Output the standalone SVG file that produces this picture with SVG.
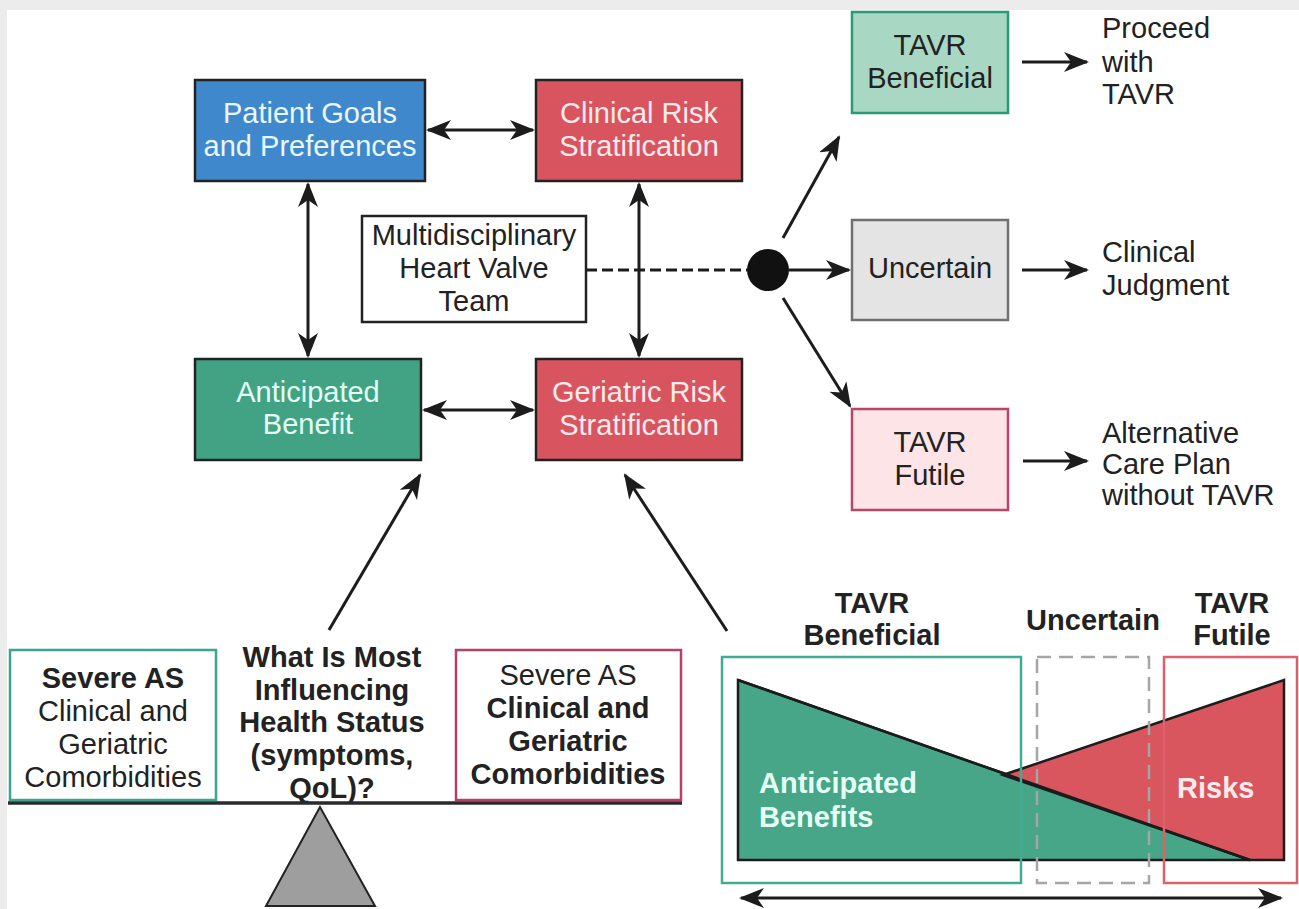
<svg xmlns="http://www.w3.org/2000/svg" width="1299" height="909" viewBox="0 0 1299 909">
  <style>
    text { font-family: "Liberation Sans", Arial, Helvetica, sans-serif; font-size: 29px; }
    .c { text-anchor: middle; }
    .b { font-weight: bold; }
    .lt { fill: #e9f7ff; }
    .dk { fill: #222; }
    .box { stroke: #222; stroke-width: 2.5; }
    .arw { stroke: #1c1c1c; stroke-width: 3; fill: none; }
  </style>
  <defs>
    <marker id="ah" markerUnits="userSpaceOnUse" markerWidth="28" markerHeight="24" refX="23" refY="10" orient="auto-start-reverse">
      <path d="M0,0 L25,10 L0,20 L7,10 Z" fill="#1c1c1c"/>
    </marker>
  </defs>

  <!-- page -->
  <rect x="0" y="0" width="1299" height="909" fill="#ececec"/>
  <rect x="7" y="10" width="1292" height="899" fill="#ffffff"/>

  <!-- decision nodes -->
  <g id="patient-goals">
    <rect class="box" x="195" y="80" width="230" height="101" fill="#3f88cc"/>
    <text class="c lt" x="310" y="123">Patient Goals</text>
    <text class="c lt" x="310" y="156">and Preferences</text>
  </g>
  <g id="clinical-risk">
    <rect class="box" x="536" y="80" width="206" height="101" fill="#d85560"/>
    <text class="c" x="639" y="123" fill="#fdebec">Clinical Risk</text>
    <text class="c" x="639" y="156" fill="#fdebec">Stratification</text>
  </g>
  <g id="heart-team">
    <rect class="box" x="362" y="216" width="224" height="106" fill="#ffffff" stroke="#333"/>
    <text class="c dk" x="474" y="245">Multidisciplinary</text>
    <text class="c dk" x="474" y="278">Heart Valve</text>
    <text class="c dk" x="474" y="311">Team</text>
  </g>
  <g id="anticipated-benefit">
    <rect class="box" x="195" y="359" width="226" height="101" fill="#41a384"/>
    <text class="c" x="308" y="402" fill="#e4fff4">Anticipated</text>
    <text class="c" x="308" y="434" fill="#e4fff4">Benefit</text>
  </g>
  <g id="geriatric-risk">
    <rect class="box" x="536" y="359" width="206" height="101" fill="#d85560"/>
    <text class="c" x="639" y="402" fill="#fdebec">Geriatric Risk</text>
    <text class="c" x="639" y="435" fill="#fdebec">Stratification</text>
  </g>

  <g id="decision-point">
    <circle cx="768" cy="270" r="21" fill="#111"/>
  </g>

  <!-- outcomes -->
  <g id="tavr-beneficial">
    <rect x="852" y="12" width="156" height="101" fill="#a8d7c4" stroke="#2b9a74" stroke-width="2.5"/>
    <text class="c dk" x="930" y="55">TAVR</text>
    <text class="c dk" x="930" y="88">Beneficial</text>
  </g>
  <g id="uncertain">
    <rect x="852" y="220" width="156" height="100" fill="#e4e4e4" stroke="#707070" stroke-width="2.5"/>
    <text class="c dk" x="930" y="278">Uncertain</text>
  </g>
  <g id="tavr-futile">
    <rect x="852" y="409" width="156" height="101" fill="#fce4e7" stroke="#b8456a" stroke-width="2.5"/>
    <text class="c dk" x="930" y="452">TAVR</text>
    <text class="c dk" x="930" y="485">Futile</text>
  </g>

  <g id="proceed">
    <text class="dk" x="1102" y="38">Proceed</text>
    <text class="dk" x="1102" y="72">with</text>
    <text class="dk" x="1102" y="104">TAVR</text>
  </g>
  <g id="clinical-judgment">
    <text class="dk" x="1102" y="262">Clinical</text>
    <text class="dk" x="1102" y="295">Judgment</text>
  </g>
  <g id="alternative-plan">
    <text class="dk" x="1102" y="443">Alternative</text>
    <text class="dk" x="1102" y="474">Care Plan</text>
    <text class="dk" x="1102" y="505">without TAVR</text>
  </g>

  <!-- connectors -->
  <g id="connectors">
    <line class="arw" x1="428" y1="130" x2="533" y2="130" marker-start="url(#ah)" marker-end="url(#ah)"/>
    <line class="arw" x1="424" y1="410" x2="533" y2="410" marker-start="url(#ah)" marker-end="url(#ah)"/>
    <line class="arw" x1="308" y1="184" x2="308" y2="356" marker-start="url(#ah)" marker-end="url(#ah)"/>
    <line class="arw" x1="639" y1="184" x2="639" y2="356" marker-start="url(#ah)" marker-end="url(#ah)"/>
    <line x1="586" y1="270" x2="747" y2="270" stroke="#1c1c1c" stroke-width="3" stroke-dasharray="11 5"/>
    <line class="arw" x1="783" y1="238" x2="839" y2="137" marker-end="url(#ah)"/>
    <line class="arw" x1="789" y1="270" x2="849" y2="270" marker-end="url(#ah)"/>
    <line class="arw" x1="783" y1="298" x2="850" y2="406" marker-end="url(#ah)"/>
    <line class="arw" x1="1022" y1="62" x2="1087" y2="62" marker-end="url(#ah)"/>
    <line class="arw" x1="1022" y1="270" x2="1087" y2="270" marker-end="url(#ah)"/>
    <line class="arw" x1="1023" y1="461" x2="1087" y2="461" marker-end="url(#ah)"/>
    <line class="arw" x1="329" y1="630" x2="420" y2="475" marker-end="url(#ah)"/>
    <line class="arw" x1="727" y1="631" x2="625" y2="475" marker-end="url(#ah)"/>
  </g>

  <!-- balance scale -->
  <g id="scale">
    <rect x="10" y="650" width="206" height="150" fill="none" stroke="#3aa58a" stroke-width="2.5"/>
    <text class="c b dk" x="113" y="688">Severe AS</text>
    <text class="c dk" x="113" y="721">Clinical and</text>
    <text class="c dk" x="113" y="754">Geriatric</text>
    <text class="c dk" x="113" y="787">Comorbidities</text>

    <text class="c b dk" x="332" y="667">What Is Most</text>
    <text class="c b dk" x="332" y="700">Influencing</text>
    <text class="c b dk" x="332" y="732">Health Status</text>
    <text class="c b dk" x="332" y="765">(symptoms,</text>
    <text class="c b dk" x="332" y="798">QoL)?</text>

    <rect x="456" y="650" width="225" height="150" fill="none" stroke="#b83f6a" stroke-width="2.5"/>
    <text class="c dk" x="568" y="685">Severe AS</text>
    <text class="c b dk" x="568" y="718">Clinical and</text>
    <text class="c b dk" x="568" y="751">Geriatric</text>
    <text class="c b dk" x="568" y="784">Comorbidities</text>

    <line x1="8" y1="803" x2="682" y2="803" stroke="#2a2a2a" stroke-width="3.5"/>
    <polygon points="320,807 266,906 375,906" fill="#9e9e9e" stroke="#222" stroke-width="2"/>
  </g>

  <!-- benefit / risk spectrum -->
  <g id="spectrum">
    <text class="c b dk" x="872" y="613">TAVR</text>
    <text class="c b dk" x="872" y="645">Beneficial</text>
    <text class="c b dk" x="1093" y="630">Uncertain</text>
    <text class="c b dk" x="1232" y="613">TAVR</text>
    <text class="c b dk" x="1232" y="645">Futile</text>

    <polygon points="738,680 738,860 1250,860" fill="#47a588" stroke="#1c1c1c" stroke-width="2.5"/>
    <polygon points="1003,775 1284,680 1284,860 1250,860" fill="#d9565f" stroke="#1c1c1c" stroke-width="2.5"/>
    <line x1="738" y1="680" x2="1250" y2="860" stroke="#1c1c1c" stroke-width="2.5"/>

    <rect x="722" y="657" width="299" height="226" fill="none" stroke="#40ad92" stroke-width="2.5"/>
    <rect x="1037" y="657" width="112" height="226" fill="none" stroke="#a5a5a5" stroke-width="2.5" stroke-dasharray="14 8"/>
    <rect x="1164" y="657" width="133" height="226" fill="none" stroke="#df5f6b" stroke-width="2.5"/>

    <text class="b" x="759" y="793" fill="#e4fff4">Anticipated</text>
    <text class="b" x="759" y="827" fill="#e4fff4">Benefits</text>
    <text class="b" x="1177" y="798" fill="#fdebec">Risks</text>

    <line class="arw" x1="741" y1="898" x2="1281" y2="898" marker-start="url(#ah)" marker-end="url(#ah)"/>
  </g>
</svg>
